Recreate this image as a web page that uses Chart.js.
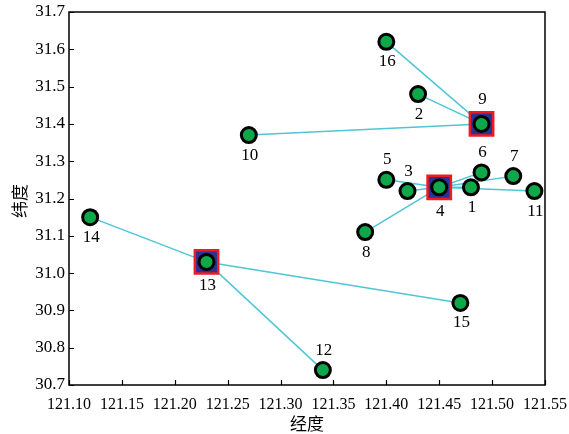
<!DOCTYPE html>
<html>
<head>
<meta charset="utf-8">
<script src="https://cdn.jsdelivr.net/npm/chart.js@4"></script>
<style>
  html, body { margin: 0; padding: 0; background: #fff; }
  #wrap { width: 569px; height: 434px; }
</style>
</head>
<body>
<div id="wrap"><canvas id="geoChart"></canvas></div>
<script>
// ---- data ----
const siteIds = [1, 2, 3, 4, 5, 6, 7, 8, 9, 10, 11, 12, 13, 14, 15, 16];
const lons = [121.48, 121.43, 121.42, 121.45, 121.40, 121.49, 121.52, 121.38,
              121.49, 121.27, 121.54, 121.34, 121.23, 121.12, 121.47, 121.40];
const lats = [31.23, 31.48, 31.22, 31.23, 31.25, 31.27, 31.26, 31.11,
              31.40, 31.37, 31.22, 30.74, 31.03, 31.15, 30.92, 31.62];
const hubIds = [4, 9, 13];
// each link: [hub, site]
const links = [
  [9, 16], [9, 2], [9, 10],
  [4, 5], [4, 3], [4, 1], [4, 6], [4, 7], [4, 11], [4, 8],
  [13, 14], [13, 15], [13, 12]
];
const xTicks = [121.10, 121.15, 121.20, 121.25, 121.30, 121.35, 121.40, 121.45, 121.50, 121.55];
const yTicks = [30.7, 30.8, 30.9, 31.0, 31.1, 31.2, 31.3, 31.4, 31.5, 31.6, 31.7];
// labels drawn above the marker (rest go below)
const labelsAbove = [3, 5, 6, 7, 9, 12];

const pt = id => ({ x: lons[id - 1], y: lats[id - 1] });

const lineColor = '#4fc5d6';
const serif = "'Liberation Serif', 'DejaVu Serif', serif";

const linkSets = links.map(([a, b]) => ({
  type: 'scatter',
  data: [pt(a), pt(b)],
  showLine: true,
  borderColor: lineColor,
  borderWidth: 1.5,
  pointRadius: 0,
  pointHoverRadius: 0,
  order: 3
}));

// small plugin: inward ticks, box, number labels, axis titles
const decorPlugin = {
  id: 'decor',
  afterDraw(chart) {
    const { ctx, chartArea: a, scales } = chart;
    ctx.save();
    ctx.strokeStyle = '#000';
    ctx.lineWidth = 1.5;
    ctx.strokeRect(a.left, a.top, a.right - a.left, a.bottom - a.top);
    ctx.lineWidth = 1.2;
    ctx.beginPath();
    xTicks.forEach(v => {
      const px = Math.round(scales.x.getPixelForValue(v)) + 0.5;
      ctx.moveTo(px, a.bottom);
      ctx.lineTo(px, a.bottom - 5);
    });
    yTicks.forEach(v => {
      const py = Math.round(scales.y.getPixelForValue(v)) + 0.5;
      ctx.moveTo(a.left, py);
      ctx.lineTo(a.left + 5, py);
    });
    ctx.stroke();

    // site numbers
    ctx.fillStyle = '#000';
    ctx.font = '17px ' + serif;
    ctx.textAlign = 'center';
    ctx.textBaseline = 'middle';
    siteIds.forEach(id => {
      const px = scales.x.getPixelForValue(lons[id - 1]);
      const py = scales.y.getPixelForValue(lats[id - 1]);
      const isHub = hubIds.includes(id);
      const off = isHub ? 24 : 20;
      const dy = labelsAbove.includes(id) ? -off : off;
      ctx.fillText(String(id), px + 1, py + dy);
    });

    // axis titles
    ctx.font = "17px 'Noto Sans CJK SC', sans-serif";
    ctx.fillText('经度', (a.left + a.right) / 2, 424);
    ctx.translate(20, 201);
    ctx.rotate(-Math.PI / 2);
    ctx.fillText('纬度', 0, 0);
    ctx.restore();
  }
};

new Chart(document.getElementById('geoChart'), {
  type: 'scatter',
  data: {
    datasets: [
      ...linkSets,
      {
        label: 'hubs',
        data: hubIds.map(pt),
        pointStyle: 'rect',
        pointRadius: 16.5,
        pointHoverRadius: 16.5,
        backgroundColor: '#2e3192',
        borderColor: '#ed1c24',
        borderWidth: 2.5,
        order: 2
      },
      {
        label: 'sites',
        data: siteIds.map(pt),
        pointStyle: 'circle',
        pointRadius: 7.5,
        pointHoverRadius: 7.5,
        backgroundColor: '#0ea84b',
        borderColor: '#000',
        borderWidth: 3,
        order: 1
      }
    ]
  },
  options: {
    responsive: true,
    maintainAspectRatio: false,
    animation: false,
    layout: { autoPadding: false, padding: { left: 0, top: 12, right: 24, bottom: 0 } },
    plugins: { legend: { display: false }, tooltip: { enabled: false } },
    scales: {
      x: {
        type: 'linear',
        min: 121.10,
        max: 121.55,
        afterFit: s => { s.height = 49; s.paddingLeft = 0; s.paddingRight = 0; },
        afterBuildTicks: s => { s.ticks = xTicks.map(v => ({ value: v })); },
        grid: { drawOnChartArea: false, drawTicks: false },
        border: { display: false },
        ticks: {
          color: '#000',
          padding: 10,
          maxRotation: 0,
          autoSkip: false,
          font: { family: serif, size: 16 },
          callback: v => v.toFixed(2)
        }
      },
      y: {
        type: 'linear',
        min: 30.7,
        max: 31.7,
        afterFit: s => { s.width = 69; s.paddingTop = 0; s.paddingBottom = 0; },
        afterBuildTicks: s => { s.ticks = yTicks.map(v => ({ value: v })); },
        grid: { drawOnChartArea: false, drawTicks: false },
        border: { display: false },
        ticks: {
          color: '#000',
          padding: 4,
          autoSkip: false,
          font: { family: serif, size: 17 },
          callback: v => v.toFixed(1)
        }
      }
    }
  },
  plugins: [decorPlugin]
});
</script>
</body>
</html>
